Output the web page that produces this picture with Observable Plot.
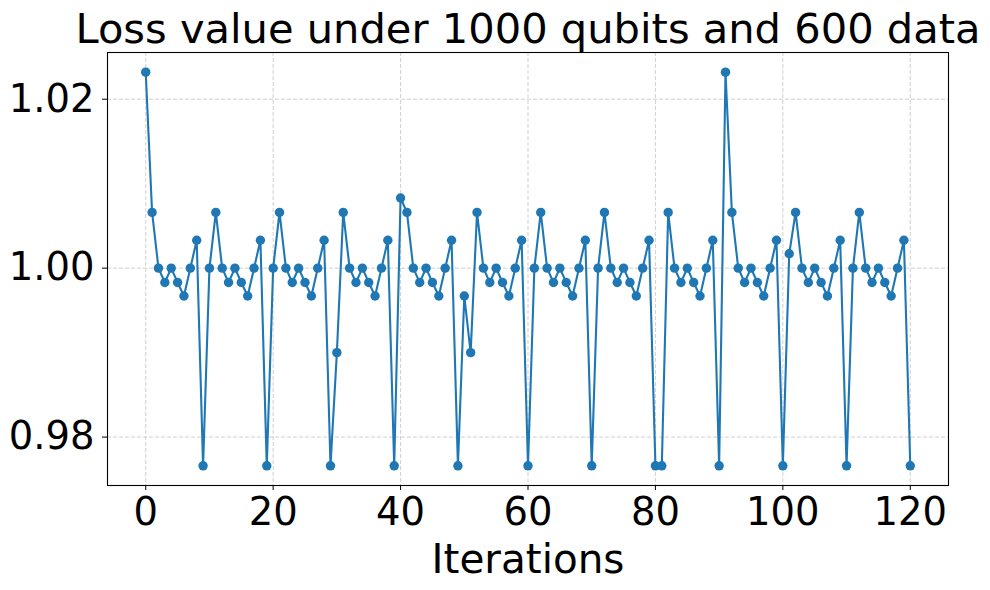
<!DOCTYPE html>
<html>
<head>
<meta charset="utf-8">
<script src="https://cdn.jsdelivr.net/npm/d3@7"></script>
<script src="https://cdn.jsdelivr.net/npm/@observablehq/plot@0.6"></script>
<style>
  html, body { margin: 0; padding: 0; background: white; }
</style>
</head>
<body>
<div id="chart"></div>
<script>
const titleText = "Loss value under 1000 qubits and 600 data";
const xLabel = "Iterations";
const xTicks = [0, 20, 40, 60, 80, 100, 120];
const yTicks = [0.98, 1.00, 1.02];
const loss = [
  1.0232, 1.0066, 1.0000, 0.9983, 1.0000, 0.9983, 0.9967, 1.0000, 1.0033, 0.9766,
  1.0000, 1.0066, 1.0000, 0.9983, 1.0000, 0.9983, 0.9967, 1.0000, 1.0033, 0.9766,
  1.0000, 1.0066, 1.0000, 0.9983, 1.0000, 0.9983, 0.9967, 1.0000, 1.0033, 0.9766,
  0.9900, 1.0066, 1.0000, 0.9983, 1.0000, 0.9983, 0.9967, 1.0000, 1.0033, 0.9766,
  1.0083, 1.0066, 1.0000, 0.9983, 1.0000, 0.9983, 0.9967, 1.0000, 1.0033, 0.9766,
  0.9967, 0.9900, 1.0066, 1.0000, 0.9983, 1.0000, 0.9983, 0.9967, 1.0000, 1.0033,
  0.9766, 1.0000, 1.0066, 1.0000, 0.9983, 1.0000, 0.9983, 0.9967, 1.0000, 1.0033,
  0.9766, 1.0000, 1.0066, 1.0000, 0.9983, 1.0000, 0.9983, 0.9967, 1.0000, 1.0033,
  0.9766, 0.9766, 1.0066, 1.0000, 0.9983, 1.0000, 0.9983, 0.9967, 1.0000, 1.0033,
  0.9766, 1.0232, 1.0066, 1.0000, 0.9983, 1.0000, 0.9983, 0.9967, 1.0000, 1.0033,
  0.9766, 1.0017, 1.0066, 1.0000, 0.9983, 1.0000, 0.9983, 0.9967, 1.0000, 1.0033,
  0.9766, 1.0000, 1.0066, 1.0000, 0.9983, 1.0000, 0.9983, 0.9967, 1.0000, 1.0033,
  0.9766
];
const iterations = d3.range(loss.length);
const data = iterations.map((it, i) => ({iteration: it, loss: loss[i]}));

const color = "#1f77b4";
const gridStyle = {stroke: "#b0b0b0", strokeOpacity: 0.75, strokeDasharray: "4,2", strokeWidth: 0.8};

const chart = Plot.plot({
  width: 990,
  height: 590,
  marginTop: 52,
  marginBottom: 105,
  marginLeft: 107,
  marginRight: 42,
  style: {fontFamily: "'DejaVu Sans', sans-serif", background: "white", color: "black", overflow: "visible"},
  x: {domain: [-6, 126]},
  y: {domain: [0.97427, 1.02553]},
  marks: [
    Plot.gridX(xTicks, gridStyle),
    Plot.gridY(yTicks, gridStyle),
    Plot.lineY(data, {x: "iteration", y: "loss", stroke: color, strokeWidth: 2.1}),
    Plot.dot(data, {x: "iteration", y: "loss", fill: color, r: 4.7}),
    Plot.frame({stroke: "black", strokeWidth: 1.1}),
    Plot.axisX(xTicks, {fontSize: 38.5, tickSize: 5, tickPadding: 7, label: null, tickFormat: d => String(d)}),
    Plot.axisY(yTicks, {fontSize: 38.5, tickSize: 5, tickPadding: 8, label: null, tickFormat: d3.format(".2f")}),
    Plot.text([xLabel], {text: d => d, frameAnchor: "bottom", dy: 87, fontSize: 40.5, lineAnchor: "bottom", fill: "black"}),
    Plot.text([titleText], {text: d => d, frameAnchor: "top", dy: -10, fontSize: 41.6, lineAnchor: "bottom", fill: "black"})
  ]
});
document.getElementById("chart").appendChild(chart);
</script>
</body>
</html>
